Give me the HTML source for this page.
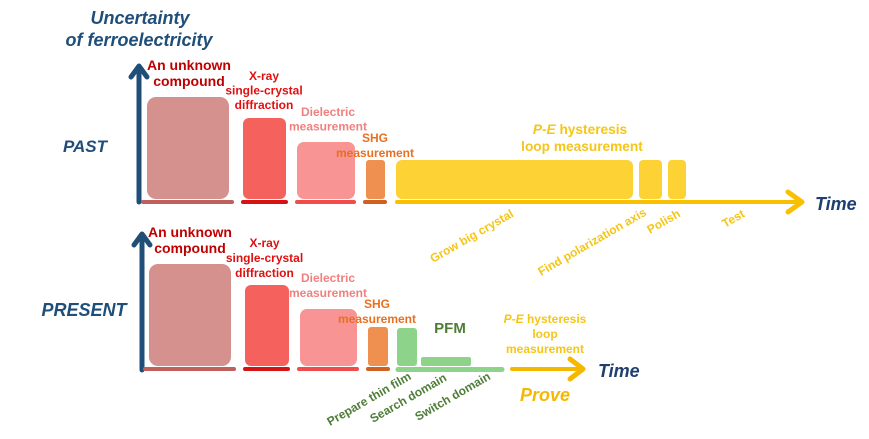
<!DOCTYPE html>
<html><head><meta charset="utf-8"><style>
html,body{margin:0;padding:0;background:#fff;}
svg{display:block;}
text{font-family:"Liberation Sans",Arial,sans-serif;font-weight:bold;}
</style></head><body>
<svg width="869" height="439" viewBox="0 0 869 439" xmlns="http://www.w3.org/2000/svg">
<rect width="869" height="439" fill="#fff"/>
<!-- Title -->
<text x="140" y="24" font-size="18" font-style="italic" fill="#1F4E79" text-anchor="middle">Uncertainty</text>
<text x="139" y="46" font-size="18" font-style="italic" fill="#1F4E79" text-anchor="middle">of ferroelectricity</text>
<text x="85" y="152" font-size="17" font-style="italic" fill="#1F4E79" text-anchor="middle">PAST</text>
<text x="84" y="316" font-size="18" font-style="italic" fill="#1F4E79" text-anchor="middle">PRESENT</text>

<!-- ===== PAST ===== -->
<line x1="139" y1="68" x2="139" y2="202" stroke="#1F4E79" stroke-width="5" stroke-linecap="round"/>
<polyline points="131,77 139,66 147,77" fill="none" stroke="#1F4E79" stroke-width="5" stroke-linecap="round" stroke-linejoin="round"/>

<rect x="147" y="97" width="82" height="102" rx="9" fill="#D4918D"/>
<rect x="243" y="118" width="43" height="81" rx="6" fill="#F5615D"/>
<rect x="297" y="142" width="58" height="57" rx="7" fill="#F89494"/>
<rect x="366" y="160" width="19" height="39" rx="3" fill="#F09050"/>
<rect x="396" y="160" width="237" height="39" rx="6" fill="#FCD235"/>
<rect x="639" y="160" width="23" height="39" rx="4" fill="#FCD235"/>
<rect x="668" y="160" width="18" height="39" rx="4" fill="#FCD235"/>

<line x1="143" y1="202" x2="232" y2="202" stroke="#C0605C" stroke-width="4" stroke-linecap="round"/>
<line x1="243" y1="202" x2="286" y2="202" stroke="#D41414" stroke-width="4" stroke-linecap="round"/>
<line x1="297" y1="202" x2="354" y2="202" stroke="#F04C4C" stroke-width="4" stroke-linecap="round"/>
<line x1="365" y1="202" x2="385" y2="202" stroke="#D06020" stroke-width="4" stroke-linecap="round"/>
<line x1="397" y1="202" x2="801" y2="202" stroke="#F8C000" stroke-width="4" stroke-linecap="round"/>
<polyline points="788,192 802,202 788,212" fill="none" stroke="#F8C000" stroke-width="5" stroke-linecap="round" stroke-linejoin="round"/>
<text x="815" y="210" font-size="18" font-style="italic" fill="#1F3F6F">Time</text>

<text x="189" y="70" font-size="14" fill="#C00000" text-anchor="middle">An unknown</text>
<text x="189" y="86" font-size="14" fill="#C00000" text-anchor="middle">compound</text>
<text x="264" y="80" font-size="12" fill="#E01010" text-anchor="middle">X-ray</text>
<text x="264" y="94.5" font-size="12" fill="#E01010" text-anchor="middle">single-crystal</text>
<text x="264" y="109" font-size="12" fill="#E01010" text-anchor="middle">diffraction</text>
<text x="328" y="116" font-size="12" fill="#F08080" text-anchor="middle">Dielectric</text>
<text x="328" y="130.5" font-size="12" fill="#F08080" text-anchor="middle">measurement</text>
<text x="375" y="142" font-size="12" fill="#E87020" text-anchor="middle">SHG</text>
<text x="375" y="157" font-size="12" fill="#E87020" text-anchor="middle">measurement</text>
<text x="580" y="134" font-size="13.7" fill="#F5C518" text-anchor="middle"><tspan font-style="italic">P-E</tspan> hysteresis</text>
<text x="582" y="151" font-size="13.7" fill="#F5C518" text-anchor="middle">loop measurement</text>

<text transform="translate(433,263) rotate(-30)" font-size="12" fill="#F5C518">Grow big crystal</text>
<text transform="translate(541,276) rotate(-30)" font-size="12" fill="#F5C518">Find polarization axis</text>
<text transform="translate(650,234) rotate(-30)" font-size="12" fill="#F5C518">Polish</text>
<text transform="translate(725,228) rotate(-30)" font-size="12" fill="#F5C518">Test</text>

<!-- ===== PRESENT ===== -->
<line x1="142" y1="237" x2="142" y2="370" stroke="#1F4E79" stroke-width="5" stroke-linecap="round"/>
<polyline points="134,245 142,234 150,245" fill="none" stroke="#1F4E79" stroke-width="5" stroke-linecap="round" stroke-linejoin="round"/>

<rect x="149" y="264" width="82" height="102" rx="9" fill="#D4918D"/>
<rect x="245" y="285" width="44" height="81" rx="6" fill="#F5615D"/>
<rect x="300" y="309" width="57" height="57" rx="7" fill="#F89494"/>
<rect x="368" y="327" width="20" height="39" rx="3" fill="#F09050"/>
<rect x="397" y="328" width="20" height="38" rx="3" fill="#8DD48A"/>
<rect x="421" y="357" width="50" height="9" rx="2" fill="#8DD48A"/>

<line x1="145" y1="369" x2="234" y2="369" stroke="#C0605C" stroke-width="4" stroke-linecap="round"/>
<line x1="245" y1="369" x2="288" y2="369" stroke="#D41414" stroke-width="4" stroke-linecap="round"/>
<line x1="299" y1="369" x2="357" y2="369" stroke="#F04C4C" stroke-width="4" stroke-linecap="round"/>
<line x1="368" y1="369" x2="388" y2="369" stroke="#D06020" stroke-width="4" stroke-linecap="round"/>
<line x1="398" y1="369.5" x2="502" y2="369.5" stroke="#8DD48A" stroke-width="5" stroke-linecap="round"/>
<line x1="512" y1="369" x2="582" y2="369" stroke="#F5B800" stroke-width="4" stroke-linecap="round"/>
<polyline points="570,359 583,369 570,379" fill="none" stroke="#F5B800" stroke-width="5" stroke-linecap="round" stroke-linejoin="round"/>
<text x="598" y="377" font-size="18" font-style="italic" fill="#1F3F6F">Time</text>
<text x="545" y="401" font-size="18" font-style="italic" fill="#F5B800" text-anchor="middle">Prove</text>

<text x="190" y="237" font-size="14" fill="#C00000" text-anchor="middle">An unknown</text>
<text x="190" y="253" font-size="14" fill="#C00000" text-anchor="middle">compound</text>
<text x="264.5" y="247" font-size="12" fill="#E01010" text-anchor="middle">X-ray</text>
<text x="264.5" y="262" font-size="12" fill="#E01010" text-anchor="middle">single-crystal</text>
<text x="264.5" y="277" font-size="12" fill="#E01010" text-anchor="middle">diffraction</text>
<text x="328" y="282" font-size="12" fill="#F08080" text-anchor="middle">Dielectric</text>
<text x="328" y="297" font-size="12" fill="#F08080" text-anchor="middle">measurement</text>
<text x="377" y="308" font-size="12" fill="#E87020" text-anchor="middle">SHG</text>
<text x="377" y="323" font-size="12" fill="#E87020" text-anchor="middle">measurement</text>
<text x="450" y="333" font-size="15" fill="#4E7D36" text-anchor="middle">PFM</text>
<text x="545" y="323" font-size="12" fill="#F5C518" text-anchor="middle"><tspan font-style="italic">P-E</tspan> hysteresis</text>
<text x="545" y="338" font-size="12" fill="#F5C518" text-anchor="middle">loop</text>
<text x="545" y="353" font-size="12" fill="#F5C518" text-anchor="middle">measurement</text>

<text transform="translate(330,426) rotate(-30)" font-size="12" fill="#4E7D36">Prepare thin film</text>
<text transform="translate(373,423) rotate(-30)" font-size="12" fill="#4E7D36">Search domain</text>
<text transform="translate(418,421) rotate(-30)" font-size="12" fill="#4E7D36">Switch domain</text>
</svg>
</body></html>
